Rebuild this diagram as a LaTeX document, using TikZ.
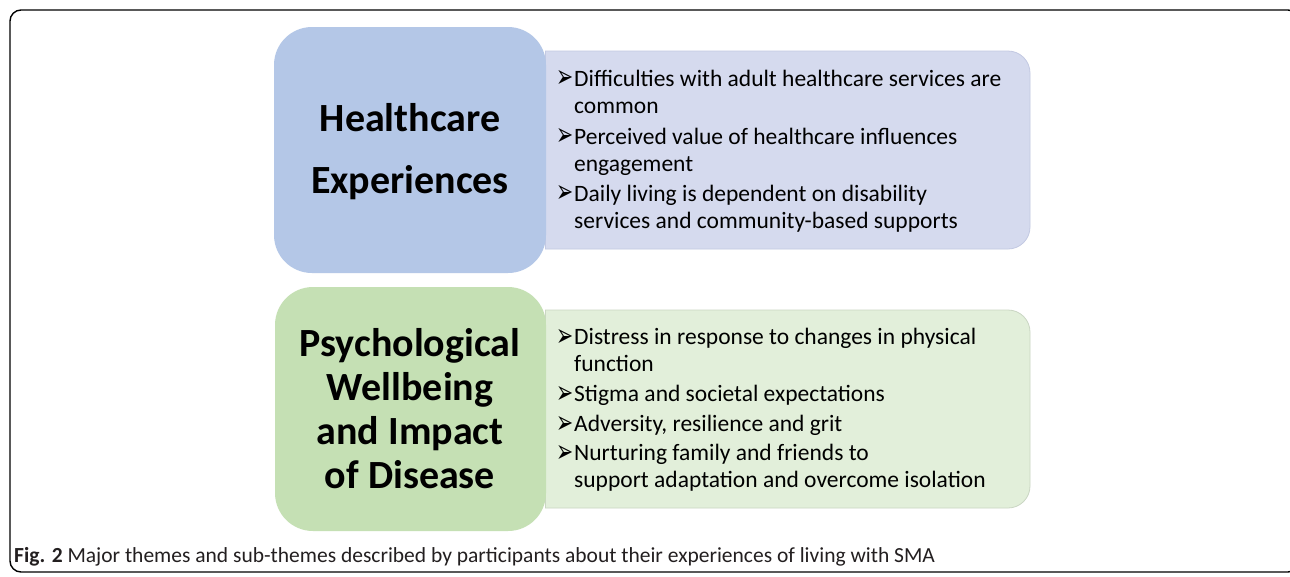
\documentclass[tikz,border=0pt]{standalone}
\usepackage{fontspec}
\setmainfont{Carlito}
\newfontfamily\arrowfont{DejaVu Sans}

\definecolor{themeblue}{HTML}{B4C7E7}
\definecolor{panelblue}{HTML}{D5DAEE}
\definecolor{edgeblue}{HTML}{C3C9E2}
\definecolor{themegreen}{HTML}{C5E0B4}
\definecolor{panelgreen}{HTML}{E2EFDA}
\definecolor{edgegreen}{HTML}{CAD6C3}
\definecolor{captionink}{HTML}{231F20}

% bullet marker and hanging indent for the sub-theme lists
\newcommand{\bul}{\makebox[18pt][l]{\raisebox{-1.5pt}{\scalebox{0.64}[1]{\arrowfont\fontsize{32}{32}\selectfont ➢}}}}
\newcommand{\ind}{\hspace*{18pt}}

\tikzset{
  themebox/.style={rounded corners=38pt},
  heading/.style={align=center, inner sep=0pt, font=\bfseries},
  listtext/.style={align=left, inner sep=0pt, anchor=west,
                   font=\fontsize{23.5}{27}\selectfont},
}

\begin{document}
\begin{tikzpicture}[x=1pt, y=-1pt]
\useasboundingbox (0,0) rectangle (1290,576);
\fill[white] (0,0) rectangle (1290,576);

% figure frame (runs off the right edge)
\draw[line width=1.4pt, rounded corners=11pt] (10,10) rectangle (1299,572);

% sub-theme panels: square on the left, rounded on the right
\fill[panelblue, rounded corners=22pt] (545,51) -- (1030,51) -- (1030,249) -- (545,249);
\draw[edgeblue, line width=0.8pt, rounded corners=22pt] (545,51) -- (1030,51) -- (1030,249) -- (545,249);
\draw[edgeblue, line width=0.8pt] (545,51) -- (545,249);

\fill[panelgreen, rounded corners=22pt] (545,310) -- (1030,310) -- (1030,508) -- (545,508);
\draw[edgegreen, line width=0.8pt, rounded corners=22pt] (545,310) -- (1030,310) -- (1030,508) -- (545,508);
\draw[edgegreen, line width=0.8pt] (545,310) -- (545,508);

% theme boxes
\fill[themeblue, themebox] (274,27) rectangle (546,273);
\fill[themegreen, themebox] (275,287) rectangle (546,531);

% theme titles
\node[heading, font=\bfseries\fontsize{40}{62}\selectfont] (hc) at (410,152)
  {Healthcare\\Experiences};
\node[heading, font=\bfseries\fontsize{40}{44}\selectfont] (pw) at (410,409)
  {Psychological\\Wellbeing\\and Impact\\of Disease};

% sub-themes
\node[listtext] (hclist) at (556,151) {%
\bul Difficulties with adult healthcare services are\\
\ind common\\[4pt]
\bul Perceived value of healthcare influences\\
\ind engagement\\[3pt]
\bul Daily living is dependent on disability\\
\ind services and community-based supports};

\node[listtext] (pwlist) at (556,410) {%
\bul Distress in response to changes in physical\\
\ind function\\[3pt]
\bul Stigma and societal expectations\\[3pt]
\bul Adversity, resilience and grit\\[2pt]
\bul Nurturing family and friends to\\
\ind support adaptation and overcome isolation};

% caption
\node[anchor=base west, inner sep=0pt, text=captionink,
      font=\fontsize{21.5}{24}\selectfont] (cap) at (14,562)
  {\textbf{Fig. 2} Major themes and sub-themes described by participants about their experiences of living with SMA};
\end{tikzpicture}
\end{document}
